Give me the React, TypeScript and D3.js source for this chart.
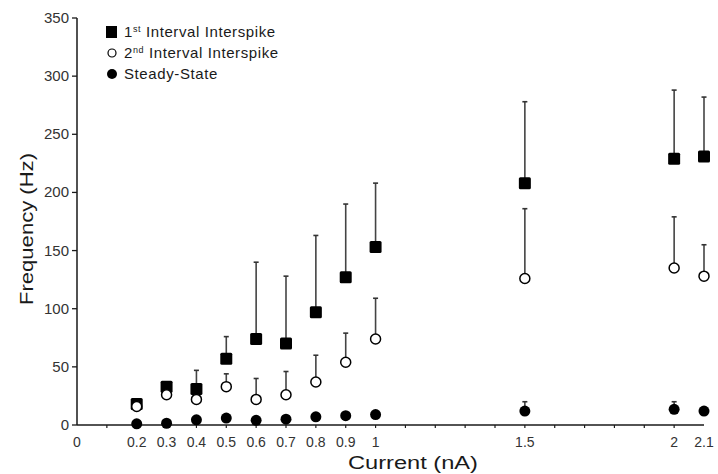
import React from "react";
import * as d3 from "d3";

const currents = [0.2, 0.3, 0.4, 0.5, 0.6, 0.7, 0.8, 0.9, 1.0, 1.5, 2.0, 2.1];
const first = [18, 33, 31, 57, 74, 70, 97, 127, 153, 208, 229, 231];
const firstErr = [null, null, 47, 76, 140, 128, 163, 190, 208, 278, 288, 282];
const second = [16, 26, 22, 33, 22, 26, 37, 54, 74, 126, 135, 128];
const secondErr = [null, null, null, 44, 40, 46, 60, 79, 109, 186, 179, 155];
const steady = [1, 1.5, 4.5, 6, 4, 5, 7, 8, 9, 12, 13.5, 12];
const steadyErr = [null, null, null, null, null, null, null, null, null, 20, 20, null];
const yTicks = [0, 50, 100, 150, 200, 250, 300, 350];
const xTickLabels = [0, 0.2, 0.3, 0.4, 0.5, 0.6, 0.7, 0.8, 0.9, 1, 1.5, 2, 2.1];
const xMinorTicks = d3.range(1, 21).map((i) => i / 10);

const W = 718;
const H = 474;
const FONT = "'Liberation Sans', Arial, Helvetica, sans-serif";
const INK = "#1a1a1a";

export default function App() {
  const x = d3.scaleLinear().domain([0, 2.1]).range([77, 704]);
  const y = d3.scaleLinear().domain([0, 350]).range([425, 18]);

  const errBar = (xv: number, v: number, top: number | null, key: string) =>
    top == null ? null : (
      <g key={key}>
        <line x1={x(xv)} x2={x(xv)} y1={y(v)} y2={y(top)} stroke="#444" strokeWidth={1.6} />
        <line x1={x(xv) - 2.5} x2={x(xv) + 2.5} y1={y(top)} y2={y(top)} stroke="#333" strokeWidth={1.6} />
      </g>
    );

  return (
    <div style={{ position: "fixed", left: 0, top: 0 }}>
      <svg width={W} height={H} style={{ display: "block", background: "#fff" }}>
        {/* error bars */}
        {currents.map((c, i) => errBar(c, first[i], firstErr[i], "fe" + i))}
        {currents.map((c, i) => errBar(c, second[i], secondErr[i], "se" + i))}
        {currents.map((c, i) => errBar(c, steady[i], steadyErr[i], "ste" + i))}

        {/* axes */}
        <line x1={x(0)} x2={x(0)} y1={y(350)} y2={y(0)} stroke="#333" strokeWidth={1.7} />
        <line x1={x(0)} x2={x(2.1)} y1={y(0)} y2={y(0)} stroke={INK} strokeWidth={1.5} />
        {yTicks.map((t) => (
          <g key={"yt" + t}>
            <line x1={x(0) - 5} x2={x(0)} y1={y(t)} y2={y(t)} stroke={INK} strokeWidth={1.3} />
            <text x={x(0) - 8} y={y(t) + 5} textAnchor="end" fontFamily={FONT} fontSize={15} fill="#333">
              {t}
            </text>
          </g>
        ))}
        {xMinorTicks.map((t) => (
          <line key={"xm" + t} x1={x(t)} x2={x(t)} y1={y(0)} y2={y(0) + 3} stroke={INK} strokeWidth={1.2} />
        ))}
        {xTickLabels.map((t) => (
          <text key={"xl" + t} x={x(t)} y={447} textAnchor="middle" fontFamily={FONT} fontSize={14} fill="#333">
            {String(t)}
          </text>
        ))}
        <text
          x={348}
          y={469}
          fontFamily={FONT}
          fontSize={18}
          fill={INK}
          textLength={130}
          lengthAdjust="spacingAndGlyphs"
        >
          Current (nA)
        </text>
        <text
          transform={`translate(33, 305) rotate(-90)`}
          fontFamily={FONT}
          fontSize={19}
          fill={INK}
          textLength={152}
          lengthAdjust="spacingAndGlyphs"
        >
          Frequency (Hz)
        </text>

        {/* markers */}
        {currents.map((c, i) => (
          <rect key={"sq" + i} x={x(c) - 6} y={y(first[i]) - 6} width={12} height={12} rx={1.5} fill="#000" />
        ))}
        {currents.map((c, i) => (
          <circle key={"oc" + i} cx={x(c)} cy={y(second[i])} r={5} fill="#fff" stroke="#000" strokeWidth={1.5} />
        ))}
        {currents.map((c, i) => (
          <circle key={"fc" + i} cx={x(c)} cy={y(steady[i])} r={5.5} fill="#000" />
        ))}

        {/* legend */}
        <rect x={106} y={26} width={11} height={12} fill="#000" />
        <text x={124} y={37} fontFamily={FONT} fontSize={15} fill={INK} letterSpacing={0.6}>
          1<tspan dy={-5} fontSize={9}>st</tspan>
          <tspan dy={5}> Interval Interspike</tspan>
        </text>
        <circle cx={112} cy={53} r={4} fill="#fff" stroke="#000" strokeWidth={1.2} />
        <text x={124} y={58} fontFamily={FONT} fontSize={15} fill={INK} letterSpacing={0.6}>
          2<tspan dy={-5} fontSize={9}>nd</tspan>
          <tspan dy={5}> Interval Interspike</tspan>
        </text>
        <circle cx={112} cy={74} r={5} fill="#000" />
        <text x={124} y={79} fontFamily={FONT} fontSize={15} fill={INK} letterSpacing={0.6}>
          Steady-State
        </text>
      </svg>
    </div>
  );
}
